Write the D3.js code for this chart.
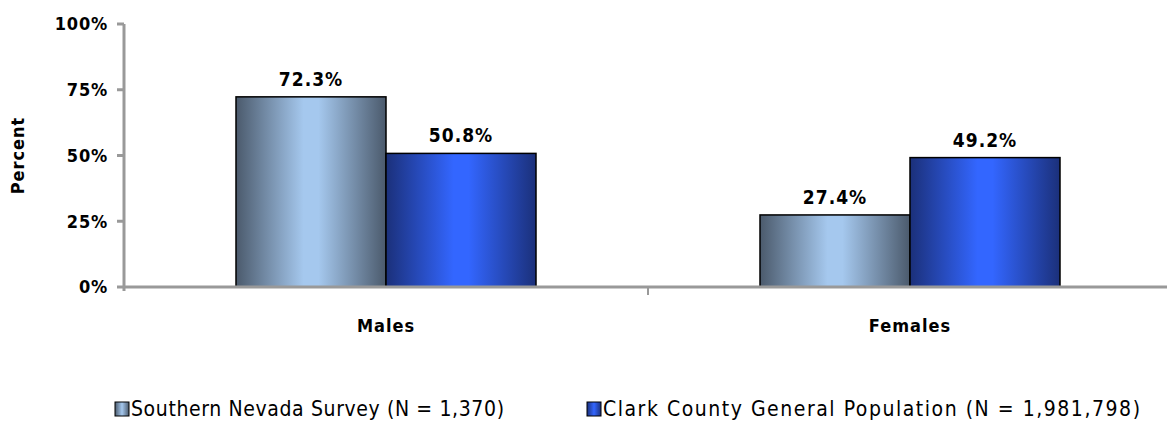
<!DOCTYPE html>
<html><head><meta charset="utf-8">
<script src="https://cdn.jsdelivr.net/npm/d3@7"></script>
<style>body{margin:0;background:#fff}svg{display:block}text{font-family:"DejaVu Sans Condensed","DejaVu Sans",sans-serif}</style>
</head><body><svg id="c" width="1167" height="424"></svg>
<script>
const categories = ["Males", "Females"];
const seriesNames = ["Southern Nevada Survey (N = 1,370)", "Clark County General Population (N = 1,981,798)"];
const surveyValues = [72.3, 27.4];
const clarkValues = [50.8, 49.2];
const yTicks = [0, 25, 50, 75, 100];

const svg = d3.select("#c");
const defs = svg.append("defs");
function grad(id, edge, mid) {
  const g = defs.append("linearGradient").attr("id", id).attr("x1", "0").attr("x2", "1").attr("y1", "0").attr("y2", "0");
  [[0, edge], [0.45, mid], [0.55, mid], [1, edge]].forEach(([o, c]) => g.append("stop").attr("offset", o).attr("stop-color", c));
}
grad("g0", "#4b5a6c", "#a5c8ee");
grad("g1", "#1b307a", "#3366ff");
const fills = ["url(#g0)", "url(#g1)"];
const legendColors = [["#4b5a6c", "#a5c8ee"], ["#1b307a", "#3366ff"]];

const x0 = d3.scaleBand().domain(categories).range([124, 1172]).paddingInner(0).paddingOuter(0);
const x1 = d3.scaleBand().domain([0, 1]).range([0, 300]);
const y = d3.scaleLinear().domain([0, 100]).range([287, 24]);

const axisColor = "#999";
svg.append("line").attr("x1", 124).attr("x2", 124).attr("y1", y(100)).attr("y2", y(0) + 4).attr("stroke", axisColor).attr("stroke-width", 3);
yTicks.forEach(t => {
  svg.append("line").attr("x1", 117).attr("x2", 124).attr("y1", y(t)).attr("y2", y(t)).attr("stroke", axisColor).attr("stroke-width", 3);
  svg.append("text").attr("x", 108).attr("y", y(t)).attr("dy", "0.35em").attr("text-anchor", "end")
    .attr("font-size", 18).attr("font-weight", "bold").attr("letter-spacing", 0.8).attr("fill", "#000").text(t + "%");
});
svg.append("text").attr("transform", `translate(24,${y(50)}) rotate(-90)`).attr("text-anchor", "middle")
  .attr("font-size", 18).attr("font-weight", "bold").attr("letter-spacing", 1).text("Percent");

const data = categories.map((c, i) => [surveyValues[i], clarkValues[i]]);
categories.forEach((c, i) => {
  const gx = x0(c) + (x0.bandwidth() - 300) / 2;
  data[i].forEach((v, s) => {
    const bx = gx + x1(s);
    svg.append("rect").attr("x", bx).attr("y", y(v)).attr("width", x1.bandwidth()).attr("height", y(0) - y(v))
      .attr("fill", fills[s]).attr("stroke", "#000").attr("stroke-width", 1.5);
    svg.append("text").attr("x", bx + x1.bandwidth() / 2).attr("y", y(v) - 11).attr("text-anchor", "middle")
      .attr("font-size", 19).attr("font-weight", "bold").attr("letter-spacing", 1).text(v.toFixed(1) + "%");
  });
  svg.append("text").attr("x", x0(c) + x0.bandwidth() / 2).attr("y", 332).attr("text-anchor", "middle")
    .attr("font-size", 18).attr("font-weight", "bold").attr("letter-spacing", 1).text(c);
});
svg.append("line").attr("x1", 124).attr("x2", 1172).attr("y1", y(0)).attr("y2", y(0)).attr("stroke", axisColor).attr("stroke-width", 3);
[categories[1]].forEach(c => {
  svg.append("line").attr("x1", x0(c)).attr("x2", x0(c)).attr("y1", y(0)).attr("y2", y(0) + 8).attr("stroke", axisColor).attr("stroke-width", 2);
});

const legX = [115, 587];
const legLen = [373, 537];
seriesNames.forEach((n, i) => {
  const lg = defs.append("linearGradient").attr("id", "lg" + i);
  [[0, legendColors[i][0]], [0.5, legendColors[i][1]], [1, legendColors[i][0]]].forEach(([o, c]) => lg.append("stop").attr("offset", o).attr("stop-color", c));
  svg.append("rect").attr("x", legX[i]).attr("y", 402).attr("width", 14).attr("height", 14).attr("fill", `url(#lg${i})`).attr("stroke", "#000").attr("stroke-width", 1);
  svg.append("text").attr("x", legX[i] + 16).attr("y", 409).attr("dy", "0.35em").attr("font-size", 21)
    .attr("textLength", legLen[i]).attr("lengthAdjust", "spacing").text(n);
});
</script></body></html>
